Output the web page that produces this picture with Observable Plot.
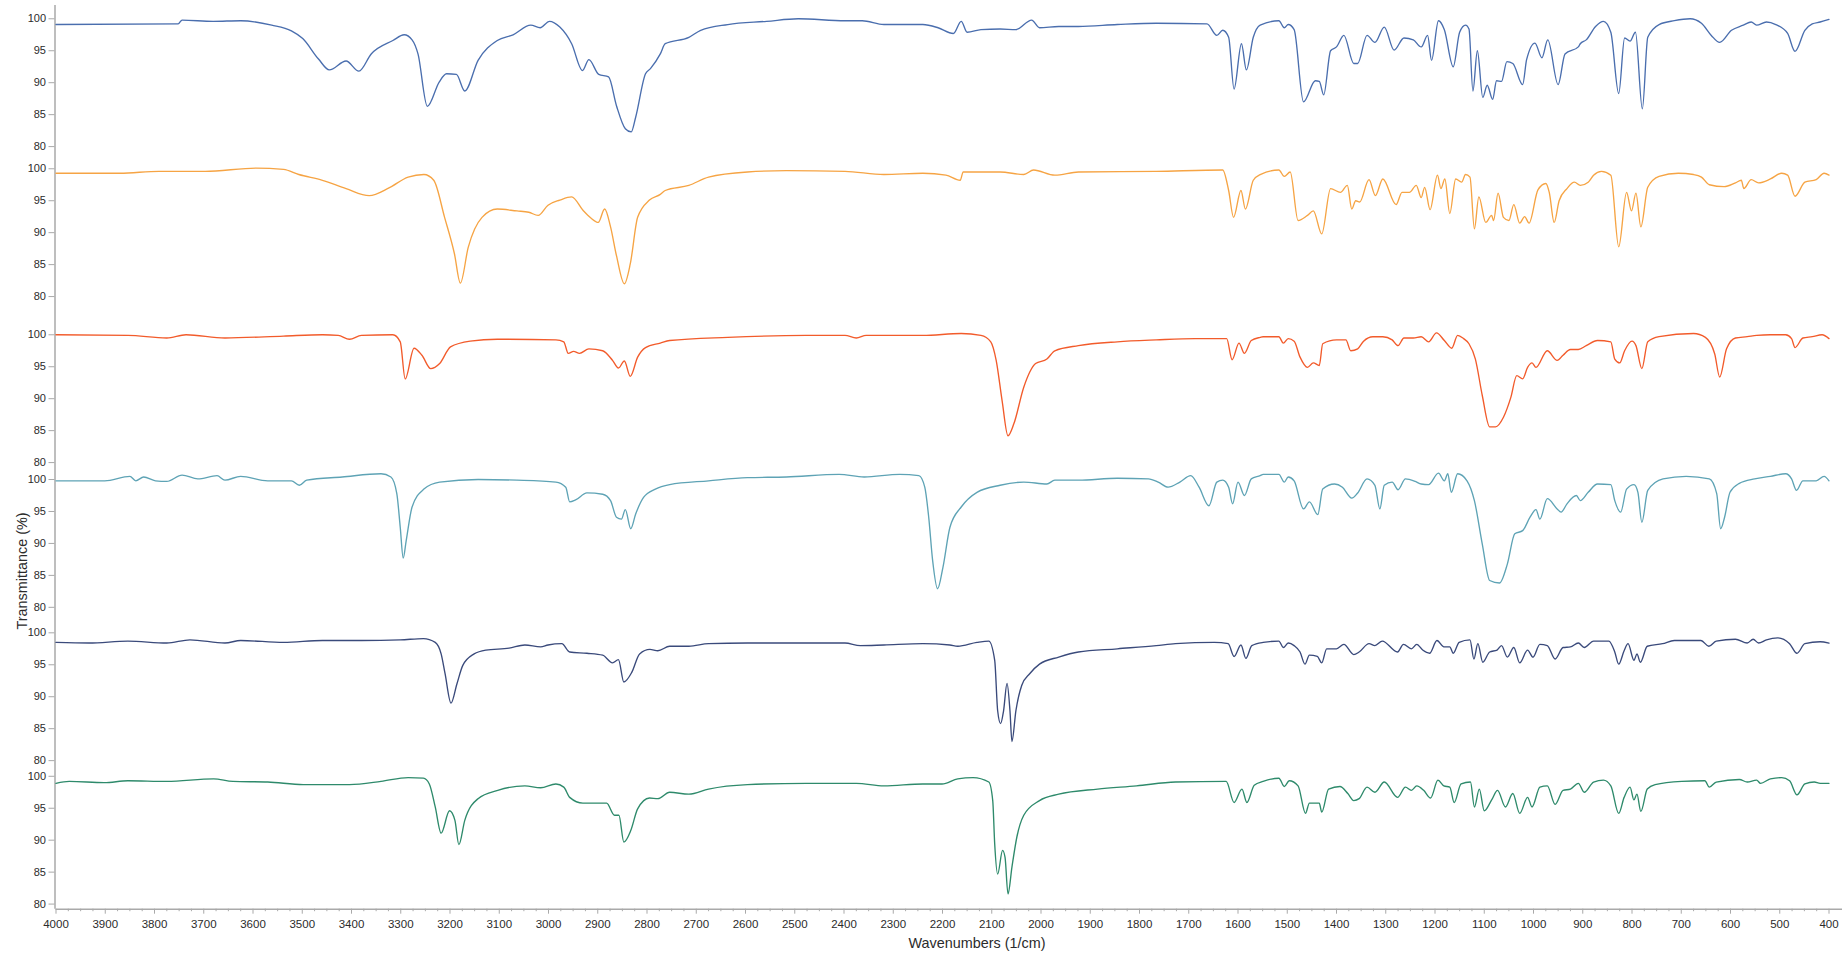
<!DOCTYPE html>
<html>
<head>
<meta charset="utf-8">
<script src="https://cdn.jsdelivr.net/npm/d3@7"></script>
<script src="https://cdn.jsdelivr.net/npm/@observablehq/plot@0.6"></script>
<style>
  html, body { margin: 0; padding: 0; background: #fff; overflow: hidden; }
  #chart { width: 1842px; height: 953px; }
</style>
</head>
<body>
<div id="chart"></div>
<script>
// ---------- data (wavenumber [1/cm], transmittance [%]) ----------
const wavenumberTicks = d3.range(4000, 399, -100);
const minorWavenumberTicks = d3.range(4000, 399, -25).filter(d => d % 100 !== 0);
const transmittanceTicks = [100, 95, 90, 85, 80];
const seriesNames = ["Spectrum 1", "Spectrum 2", "Spectrum 3", "Spectrum 4", "Spectrum 5", "Spectrum 6"];

const spectrum1 = [
[4000,99.1],[3752,99.2],[3744,99.8],[3681,99.6],[3625,99.7],[3562,99.0],[3522,98.1],[3499,96.9],[3467,93.7],[3445,92.0],
[3411,93.4],[3385,91.8],[3360,94.5],[3316,96.6],[3293,97.5],[3277,96.7],[3265,94.5],[3246,86.3],[3222,90.1],[3207,91.4],
[3187,91.3],[3170,88.7],[3143,93.5],[3104,96.6],[3072,97.5],[3036,99.0],[3017,98.6],[2998,99.6],[2977,98.7],[2953,96.1],
[2931,91.9],[2918,93.6],[2898,91.3],[2878,90.9],[2862,86.4],[2844,82.8],[2832,82.3],[2823,84.6],[2803,91.4],[2793,92.2],
[2773,94.5],[2763,96.1],[2715,97.1],[2691,98.2],[2636,99.1],[2557,99.6],[2493,100.0],[2398,99.7],[2363,99.7],[2319,99.1],
[2240,99.1],[2209,98.6],[2178,97.7],[2162,99.6],[2150,97.9],[2122,98.3],[2083,98.4],[2051,98.3],[2019,99.8],[2003,98.6],
[1964,98.8],[1924,98.8],[1845,99.1],[1766,99.3],[1663,99.2],[1643,97.4],[1631,98.2],[1619,97.1],[1608,89.0],[1593,96.1],
[1583,92.0],[1569,97.1],[1555,99.0],[1517,99.7],[1506,98.6],[1498,99.1],[1486,98.3],[1467,87.0],[1443,90.3],[1435,90.2],
[1426,88.1],[1412,95.0],[1400,95.6],[1385,97.4],[1365,93.0],[1357,93.0],[1338,97.4],[1322,96.3],[1303,98.7],[1283,95.1],
[1263,97.0],[1244,96.7],[1228,95.6],[1215,97.4],[1207,93.5],[1193,99.7],[1181,98.3],[1163,92.5],[1150,97.9],[1138,99.0],
[1131,98.4],[1123,88.7],[1114,95.0],[1103,87.7],[1094,89.6],[1083,87.4],[1075,90.3],[1065,90.2],[1054,93.3],[1042,93.0],
[1022,89.7],[1014,93.6],[997,96.2],[983,93.9],[971,96.7],[950,89.7],[936,94.5],[909,95.6],[905,96.1],[893,96.7],
[874,98.8],[858,99.6],[843,97.9],[827,88.3],[815,97.0],[804,96.5],[793,97.9],[779,85.9],[768,97.1],[745,99.1],
[714,99.7],[682,100.0],[659,99.3],[639,97.4],[622,96.3],[598,98.2],[574,99.0],[558,99.5],[547,99.0],[527,99.5],
[508,99.1],[484,97.7],[469,94.9],[449,98.2],[434,99.2],[418,99.5],[400,99.9]
];

const spectrum2 = [
[4000,99.3],[3870,99.3],[3791,99.6],[3697,99.6],[3594,100.1],[3538,99.9],[3507,99.1],[3459,98.2],[3411,96.9],[3364,95.8],
[3324,97.0],[3285,98.7],[3253,99.1],[3233,98.2],[3211,92.4],[3191,86.7],[3179,82.1],[3163,87.7],[3135,92.4],[3104,93.7],
[3064,93.4],[3040,93.2],[3021,92.7],[3001,94.3],[2977,95.1],[2953,95.6],[2930,93.5],[2914,92.3],[2899,91.6],[2886,93.7],
[2874,90.9],[2862,86.4],[2846,82.0],[2834,85.1],[2819,92.4],[2795,95.1],[2773,96.0],[2763,96.6],[2715,97.4],[2675,98.7],
[2596,99.5],[2517,99.7],[2398,99.6],[2319,99.1],[2240,99.3],[2193,99.0],[2164,98.2],[2158,99.5],[2083,99.5],[2035,99.1],
[2015,99.8],[1972,99.0],[1924,99.5],[1766,99.6],[1631,99.8],[1619,96.6],[1609,92.4],[1594,96.6],[1585,93.7],[1569,98.2],
[1555,99.1],[1517,99.8],[1506,98.8],[1494,99.5],[1478,91.9],[1459,92.7],[1447,93.4],[1430,89.8],[1412,96.9],[1392,96.3],
[1378,97.4],[1369,93.7],[1361,95.0],[1353,94.8],[1334,98.3],[1321,95.8],[1306,98.4],[1279,94.4],[1267,96.3],[1252,96.3],
[1238,97.4],[1228,95.5],[1221,97.1],[1210,93.6],[1195,99.0],[1188,96.9],[1180,98.4],[1170,93.0],[1158,98.4],[1146,97.9],
[1138,99.1],[1129,98.7],[1120,90.6],[1111,95.6],[1097,91.6],[1085,92.7],[1081,91.9],[1072,96.2],[1061,92.4],[1050,91.9],
[1040,94.4],[1028,91.5],[1018,92.5],[1009,91.5],[991,96.7],[975,97.7],[968,96.3],[958,91.6],[948,95.0],[932,96.9],
[917,97.9],[905,97.4],[889,97.9],[878,99.0],[862,99.6],[843,99.0],[827,87.8],[811,96.3],[801,93.4],[792,96.2],
[782,90.9],[768,97.1],[745,98.8],[706,99.3],[675,99.1],[659,98.7],[643,97.5],[613,97.2],[590,97.8],[578,98.2],
[573,96.9],[558,98.3],[543,97.8],[519,98.4],[496,99.3],[484,99.0],[469,95.7],[449,97.9],[426,98.3],[410,99.3],[400,99.0]
];

const spectrum3 = [
[4000,100.0],[3854,99.9],[3775,99.5],[3736,100.0],[3657,99.5],[3538,99.8],[3459,100.0],[3427,99.9],[3404,99.3],[3380,99.9],
[3316,100.0],[3301,98.9],[3291,93.1],[3273,97.9],[3257,96.8],[3239,94.7],[3221,95.5],[3199,98.1],[3159,99.0],[3104,99.3],
[2985,99.2],[2969,98.9],[2960,97.1],[2949,97.4],[2937,97.1],[2918,97.8],[2890,97.5],[2870,96.0],[2858,94.8],[2846,95.9],
[2834,93.5],[2819,96.5],[2803,98.0],[2773,98.7],[2754,99.1],[2636,99.6],[2477,99.9],[2398,99.9],[2375,99.5],[2355,99.9],
[2240,99.9],[2162,100.2],[2122,99.9],[2102,98.9],[2091,96.0],[2079,89.7],[2067,84.2],[2055,86.1],[2035,91.8],[2011,95.5],
[1988,96.2],[1972,97.5],[1924,98.3],[1845,98.9],[1766,99.2],[1687,99.4],[1623,99.4],[1612,96.1],[1598,98.7],[1587,97.1],
[1573,99.1],[1555,99.6],[1549,99.7],[1517,99.7],[1508,98.7],[1498,99.4],[1486,99.0],[1474,96.5],[1459,94.9],[1447,95.6],
[1435,95.2],[1428,98.6],[1400,99.2],[1381,99.2],[1371,97.5],[1357,97.8],[1345,99.0],[1326,99.7],[1306,99.7],[1287,99.2],
[1275,98.3],[1263,99.5],[1244,99.5],[1228,99.7],[1213,98.9],[1197,100.3],[1181,99.1],[1166,97.9],[1154,99.9],[1142,99.4],
[1131,98.6],[1118,96.2],[1104,90.5],[1089,85.6],[1077,85.6],[1061,87.1],[1046,90.2],[1034,93.6],[1022,93.1],[1012,94.9],
[1003,95.6],[995,94.9],[972,97.5],[952,96.0],[940,96.8],[925,97.7],[909,97.7],[893,98.3],[870,99.1],[843,98.9],
[835,96.2],[825,95.6],[815,97.5],[800,99.0],[792,98.3],[780,94.7],[768,98.9],[745,99.7],[675,100.2],[651,99.6],
[632,97.0],[622,93.4],[608,97.8],[590,99.5],[566,99.7],[547,99.9],[519,100.0],[488,100.0],[476,99.4],[469,98.0],
[453,99.5],[434,99.7],[414,100.0],[400,99.4]
];

const spectrum4 = [
[4000,99.8],[3901,99.8],[3850,100.5],[3838,99.8],[3822,100.4],[3798,99.8],[3775,99.7],[3744,100.7],[3712,100.1],[3673,100.6],
[3657,99.9],[3625,100.5],[3570,99.8],[3522,99.8],[3506,99.1],[3491,99.9],[3419,100.4],[3340,100.9],[3320,100.4],[3308,97.8],
[3301,92.5],[3295,87.7],[3289,90.4],[3277,95.7],[3253,98.5],[3221,99.6],[3143,100.0],[3064,99.9],[2985,99.6],[2965,98.8],
[2957,96.5],[2945,96.8],[2922,97.9],[2890,97.7],[2874,96.7],[2862,94.1],[2852,93.8],[2844,95.3],[2833,92.3],[2823,94.6],
[2807,97.2],[2783,98.5],[2754,99.2],[2675,99.8],[2596,100.3],[2517,100.4],[2410,100.8],[2359,100.4],[2287,100.8],[2248,100.6],
[2236,98.8],[2228,94.1],[2220,87.3],[2210,82.9],[2199,86.3],[2185,92.5],[2162,95.7],[2130,98.0],[2083,99.1],[2035,99.6],
[1988,99.3],[1972,99.9],[1924,99.9],[1845,100.2],[1782,100.1],[1762,99.6],[1742,98.8],[1718,99.6],[1696,100.6],[1679,98.8],
[1659,95.9],[1643,99.6],[1631,99.9],[1619,98.8],[1611,96.2],[1600,99.6],[1587,97.5],[1573,100.1],[1555,100.6],[1549,100.8],
[1517,100.8],[1506,99.6],[1498,100.4],[1486,99.8],[1467,95.4],[1455,96.5],[1438,94.5],[1428,98.5],[1404,99.3],[1388,98.8],
[1369,97.1],[1357,97.9],[1338,100.1],[1322,99.1],[1312,95.4],[1303,99.1],[1287,99.6],[1275,98.4],[1260,100.1],[1240,99.7],
[1228,99.3],[1213,99.2],[1193,101.0],[1181,99.8],[1174,100.9],[1167,98.0],[1154,100.9],[1135,99.8],[1120,96.7],[1104,89.9],
[1089,84.2],[1069,83.8],[1053,86.8],[1038,91.5],[1022,92.0],[1007,94.1],[995,95.3],[987,93.8],[972,97.0],[952,95.4],
[944,94.9],[932,96.2],[913,97.5],[905,96.7],[889,98.0],[870,99.3],[843,99.2],[835,96.7],[823,94.9],[811,98.5],
[796,99.2],[788,98.0],[780,93.3],[768,98.3],[737,100.1],[690,100.5],[643,100.1],[628,97.8],[620,92.3],[612,94.1],
[601,98.0],[582,99.4],[551,100.1],[519,100.5],[488,100.9],[476,100.1],[466,98.3],[453,99.8],[426,99.8],[410,100.5],[400,99.8]
];

const spectrum5 = [
[4000,98.5],[3933,98.4],[3854,98.7],[3775,98.4],[3728,98.9],[3657,98.4],[3625,98.8],[3538,98.5],[3459,98.8],[3380,98.8],
[3301,98.9],[3254,99.1],[3230,98.5],[3218,96.7],[3210,93.6],[3198,89.0],[3186,92.0],[3174,94.9],[3151,96.7],[3127,97.3],
[3080,97.6],[3048,98.1],[3016,97.8],[3001,98.1],[2973,98.3],[2957,97.0],[2922,96.8],[2890,96.5],[2870,95.3],[2858,95.8],
[2847,92.3],[2831,93.8],[2815,96.7],[2794,97.4],[2778,97.2],[2754,97.9],[2715,97.9],[2675,98.3],[2596,98.4],[2477,98.4],
[2398,98.4],[2367,98.0],[2319,98.1],[2240,98.3],[2185,98.1],[2169,97.9],[2130,98.5],[2106,98.7],[2094,95.7],[2088,87.8],
[2082,85.8],[2076,87.8],[2069,92.1],[2063,87.8],[2059,83.0],[2051,87.8],[2039,91.8],[2023,93.6],[2003,95.1],[1964,96.2],
[1924,97.0],[1845,97.5],[1766,98.0],[1727,98.3],[1648,98.5],[1620,98.3],[1608,96.3],[1594,98.1],[1584,96.0],[1572,98.0],
[1549,98.5],[1517,98.7],[1508,97.7],[1498,98.4],[1486,98.0],[1474,97.0],[1464,95.1],[1455,96.5],[1439,96.3],[1430,95.3],
[1420,97.5],[1400,97.5],[1385,98.2],[1365,96.6],[1354,97.0],[1334,98.3],[1322,98.0],[1307,98.7],[1276,97.0],[1264,98.2],
[1248,97.5],[1237,98.2],[1225,97.3],[1211,96.8],[1196,98.8],[1182,97.8],[1170,97.8],[1163,96.8],[1151,98.5],[1129,98.9],
[1121,95.9],[1113,98.3],[1103,95.4],[1089,97.0],[1074,97.3],[1065,98.0],[1053,96.2],[1040,97.7],[1028,95.3],[1012,97.3],
[1001,96.2],[987,98.2],[972,98.0],[956,95.9],[940,97.7],[925,97.8],[909,98.4],[897,97.7],[878,98.7],[847,98.7],
[835,97.0],[827,95.1],[816,97.2],[808,98.3],[796,95.7],[790,96.7],[783,95.4],[769,97.9],[738,98.3],[714,98.8],
[660,98.8],[644,97.9],[629,98.7],[590,99.0],[566,98.4],[554,99.0],[543,98.4],[527,98.9],[504,99.2],[480,98.3],
[465,96.8],[449,98.3],[418,98.6],[400,98.4]
];

const spectrum6 = [
[4000,98.9],[3973,99.2],[3902,99.0],[3854,99.3],[3775,99.2],[3680,99.6],[3641,99.2],[3570,99.1],[3498,98.7],[3404,98.7],
[3340,99.2],[3285,99.8],[3254,99.7],[3242,98.8],[3230,95.2],[3218,91.1],[3201,94.6],[3190,93.1],[3182,89.3],[3170,93.1],
[3143,96.5],[3103,97.8],[3048,98.5],[3016,98.2],[2985,98.8],[2969,98.3],[2957,96.7],[2930,95.8],[2882,95.8],[2866,93.9],
[2857,93.9],[2847,89.7],[2833,91.5],[2819,94.9],[2795,96.6],[2778,96.5],[2754,97.5],[2715,97.2],[2675,98.0],[2596,98.7],
[2477,98.9],[2375,98.9],[2319,98.5],[2240,98.8],[2201,98.8],[2169,99.6],[2138,99.8],[2106,99.1],[2098,96.2],[2094,89.4],
[2088,84.7],[2078,88.4],[2073,87.3],[2067,81.6],[2059,85.8],[2049,90.5],[2035,93.9],[2003,96.2],[1964,97.2],[1885,98.0],
[1806,98.5],[1727,99.1],[1624,99.2],[1608,95.9],[1592,98.0],[1582,95.9],[1567,98.6],[1549,99.2],[1517,99.7],[1506,98.4],
[1496,99.3],[1478,98.5],[1463,94.2],[1455,95.8],[1435,95.8],[1430,94.4],[1416,98.0],[1393,98.4],[1377,97.3],[1365,96.2],
[1354,96.5],[1338,98.3],[1322,97.5],[1303,99.1],[1276,96.7],[1260,98.3],[1248,97.8],[1237,98.5],[1223,97.8],[1209,96.6],
[1194,99.4],[1182,98.5],[1170,98.3],[1161,95.9],[1147,98.8],[1128,99.1],[1120,95.2],[1110,98.0],[1100,94.6],[1085,96.3],
[1073,97.8],[1057,95.2],[1042,97.3],[1028,94.2],[1012,96.7],[1003,95.2],[987,98.3],[972,98.5],[956,95.6],[940,97.8],
[925,98.0],[909,98.9],[897,97.5],[878,99.1],[858,99.4],[843,98.5],[827,94.2],[816,96.7],[804,98.3],[796,96.3],
[790,97.2],[782,94.5],[769,98.0],[753,98.7],[699,99.2],[652,99.3],[643,98.3],[629,99.1],[582,99.5],[566,99.1],
[547,99.4],[539,98.9],[519,99.6],[496,99.8],[480,99.3],[465,97.1],[449,98.8],[430,99.1],[418,98.9],[400,98.9]
];

const spectra = [spectrum1, spectrum2, spectrum3, spectrum4, spectrum5, spectrum6];

// ---------- layout / style (kept apart from the data) ----------
const seriesColors = ["#4a6eae", "#f6a444", "#f25b2b", "#5ea3b5", "#3a4a7b", "#2e8a6b"];
// vertical shift of each stacked panel, in transmittance units
const panelShift = [0, 23.47, 49.45, 72.10, 96.09, 118.54];
const yTop = 102.08, yBottom = -39.34;

const rows = [];
spectra.forEach((s, i) => s.forEach(([wn, t]) => rows.push({series: seriesNames[i], wn, t, u: t - panelShift[i]})));

const yTickValues = [];
const yTickText = new Map();
panelShift.forEach(off => transmittanceTicks.forEach(t => {
  const u = +(t - off).toFixed(3);
  yTickValues.push(u);
  yTickText.set(u, String(t));
}));

const axisGray = "#a9a9a9";
const textColor = "#2b2b2b";
const font = "'Liberation Sans', Arial, sans-serif";

const chart = Plot.plot({
  width: 1842,
  height: 953,
  marginLeft: 55.5,
  marginRight: 13.5,
  marginTop: 5,
  marginBottom: 44.3,
  style: {fontFamily: font, background: "#fff", overflow: "visible"},
  x: {domain: [4000, 400]},
  y: {domain: [yBottom, yTop]},
  color: {domain: seriesNames, range: seriesColors},
  marks: [
    Plot.ruleX([4000], {y1: yBottom, y2: yTop, stroke: axisGray, strokeWidth: 1.5, dx: -1}),
    Plot.ruleY([yBottom], {x1: 4000, x2: 372, stroke: axisGray, strokeWidth: 1.5}),
    Plot.axisY({ticks: yTickValues, tickFormat: d => yTickText.get(+(+d).toFixed(3)), tickSize: 6, tickPadding: 3,
      dx: -1, label: null, stroke: axisGray, fill: textColor, fontSize: 11}),
    Plot.axisX({ticks: wavenumberTicks, tickFormat: d => String(d), tickSize: 5, tickPadding: 6,
      label: null, stroke: axisGray, fill: textColor, fontSize: 11.5}),
    Plot.axisX({ticks: minorWavenumberTicks, tickFormat: () => "", tickSize: 2.5, label: null, stroke: axisGray}),
    Plot.line(rows, {x: "wn", y: "u", z: "series", stroke: "series", strokeWidth: 1.35,
      strokeLinejoin: "round", curve: "monotone-x"})
  ]
});

const svg = d3.select(chart);
svg.append("text")
  .attr("x", 977).attr("y", 943.3)
  .attr("text-anchor", "middle").attr("dominant-baseline", "central")
  .style("font-family", font).style("font-size", "14.4px").style("fill", textColor)
  .text("Wavenumbers (1/cm)");
svg.append("text")
  .attr("transform", "translate(21.7,571) rotate(-90)")
  .attr("text-anchor", "middle").attr("dominant-baseline", "central")
  .style("font-family", font).style("font-size", "14.4px").style("fill", textColor)
  .text("Transmittance (%)");

document.getElementById("chart").appendChild(chart);
</script>
</body>
</html>
